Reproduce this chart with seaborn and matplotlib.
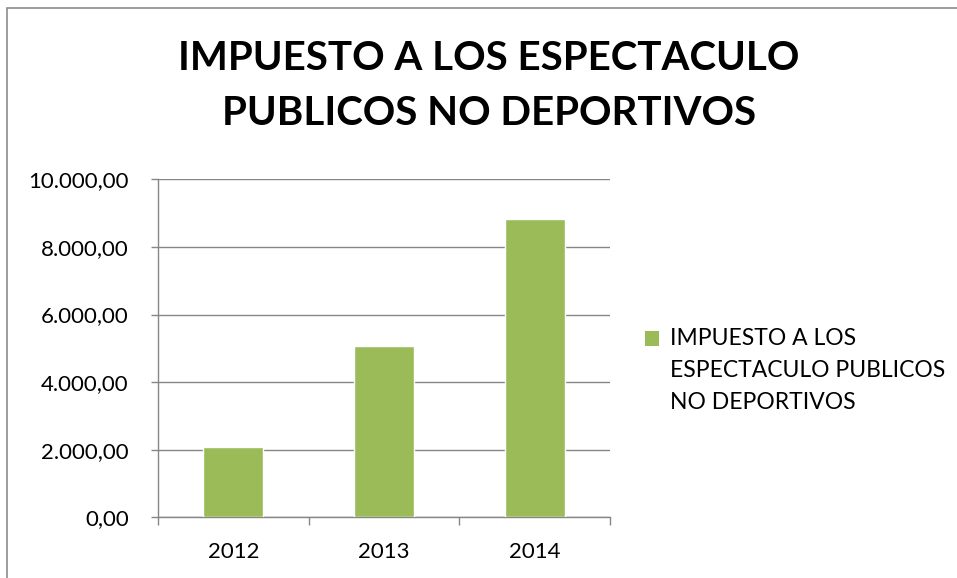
import matplotlib
matplotlib.use("Agg")
import matplotlib.pyplot as plt
import matplotlib.ticker as mticker
from matplotlib.patches import Rectangle
import pandas as pd
import seaborn as sns

years = ["2012", "2013", "2014"]
recaudo = [2090.0, 5060.0, 8825.0]
serie = "IMPUESTO A LOS ESPECTACULO PUBLICOS NO DEPORTIVOS"
titulo = "IMPUESTO A LOS ESPECTACULO\nPUBLICOS NO DEPORTIVOS"
leyenda = "IMPUESTO A LOS\nESPECTACULO PUBLICOS\nNO DEPORTIVOS"

sns.set_theme(style="white")
plt.rcParams["font.family"] = ["Lato", "DejaVu Sans"]
plt.rcParams["text.color"] = "black"

GREEN = "#9BBB59"
GRID = "#868686"

df = pd.DataFrame({"year": years, "valor": recaudo})

fig = plt.figure(figsize=(9.57, 5.78), dpi=100)
ax = fig.add_axes([158 / 957, 1 - 517.3 / 578, (610 - 158) / 957, (517.3 - 179.3) / 578])

sns.barplot(data=df, x="year", y="valor", color=GREEN, width=0.4, saturation=1, ax=ax, zorder=3)

ax.set_ylim(0, 10000)
ax.set_xlim(-0.5, 2.5)
ax.yaxis.set_major_locator(mticker.MultipleLocator(2000))
ax.yaxis.set_major_formatter(
    mticker.FuncFormatter(lambda v, p: f"{v:,.2f}".replace(",", "X").replace(".", ",").replace("X", "."))
)
ax.grid(axis="y", color=GRID, lw=1.0, zorder=0)
ax.set_xlabel("")
ax.set_ylabel("")

# ticks between categories, labels at the centers
ax.set_xticks([-0.5, 0.5, 1.5, 2.5])
ax.set_xticklabels([])
ax.set_xticks([0, 1, 2], minor=True)
ax.set_xticklabels(years, minor=True)
ax.tick_params(axis="x", which="major", direction="out", length=6, width=1.0, color=GRID, bottom=True)
ax.tick_params(axis="x", which="minor", length=0, labelsize=16, pad=18, labelcolor="black")
ax.tick_params(axis="y", direction="out", length=5, width=1.0, color=GRID, left=True, labelsize=16, pad=16,
               labelcolor="black")

for s in ["top", "right"]:
    ax.spines[s].set_visible(False)
for s in ["left", "bottom"]:
    ax.spines[s].set_color(GRID)
    ax.spines[s].set_linewidth(1.0)

fig.text(489 / 957, 1 - 86 / 578, titulo, ha="center", va="center", fontsize=29,
         fontweight="bold", linespacing=1.6, color="black")

handle = Rectangle((0, 0), 1, 1, facecolor=GREEN, edgecolor="none")
leg = fig.legend([handle], [leyenda], loc="upper left", bbox_to_anchor=(645 / 957, 1 - 328 / 578),
                 frameon=False, fontsize=16.5, handlelength=0.62, handleheight=0.62,
                 handletextpad=0.45, borderpad=0, borderaxespad=0)
txt = leg.get_texts()[0]
txt.set_linespacing(1.66)
txt.set_color("black")
# move square up to the first line of the label
h = leg.legend_handles[0]
h.set_y(h.get_y() + 1.66 * 16.5 * 0.85)

# outer chart border (cut off on the right and bottom)
fig.patches.append(Rectangle((7.5 / 957, -0.1), 1.2, 1 - 8.5 / 578 + 0.1, transform=fig.transFigure,
                             fill=False, edgecolor="#8c8c8c", lw=1.2))

fig.savefig("out.png", dpi=100)
